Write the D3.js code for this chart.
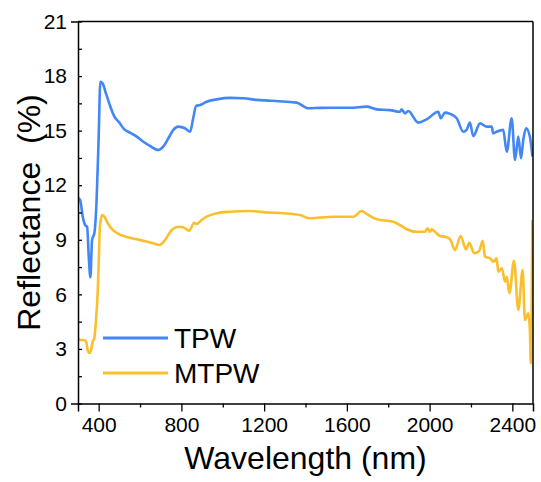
<!DOCTYPE html>
<html>
<head>
<meta charset="utf-8">
<script src="https://cdn.jsdelivr.net/npm/d3@7/dist/d3.min.js"></script>
<style>
  body { margin: 0; background: #fff; }
  text { font-family: Arial, "Liberation Sans", sans-serif; fill: #000; }
</style>
</head>
<body>
<div id="chart"></div>
<script>
// reflectance spectra
var seriesNames = ["TPW", "MTPW"];
var seriesColors = ["#4287f5", "#fcbf2c"];

var tpwWave = [300, 310, 323, 335, 344, 352, 360, 368, 379, 390, 400, 408, 419, 435, 451, 476, 500, 524, 551, 584,
    616, 648, 688, 712, 737, 761, 785, 817, 842, 857, 871, 890, 922, 971, 1035, 1099, 1164, 1220, 1290, 1357,
    1413, 1470, 1534, 1615, 1696, 1744, 1808, 1857, 1865, 1881, 1897, 1945, 1986, 2042, 2054, 2074, 2099, 2131, 2163, 2179,
    2195, 2211, 2244, 2276, 2300, 2308, 2324, 2356, 2373, 2397, 2413, 2429, 2442, 2453, 2466, 2485, 2497];
var tpwValue = [11.28, 11.2, 10.27, 9.8, 9.72, 8.07, 6.94, 8.99, 9.36, 11.19, 14.67, 17.69, 17.6, 17.05, 16.5, 15.77, 15.44, 15.07, 14.89, 14.67,
    14.39, 14.16, 13.94, 14.12, 14.58, 15.04, 15.22, 15.13, 14.94, 15.68, 16.36, 16.41, 16.59, 16.72, 16.8, 16.78, 16.69, 16.65, 16.6, 16.54,
    16.23, 16.25, 16.26, 16.26, 16.32, 16.17, 16.13, 16.04, 16.17, 15.95, 16.08, 15.44, 15.62, 16.04, 15.68, 15.99, 15.92, 15.68, 14.94, 15.04,
    15.44, 14.7, 15.4, 15.22, 15.22, 14.85, 14.94, 15.04, 13.84, 15.68, 13.39, 14.67, 13.48, 14.49, 15.13, 14.67, 13.57];

var mtpwWave = [300, 314, 326, 339, 347, 355, 363, 371, 379, 387, 395, 400, 406, 416, 427, 444, 468, 500, 532, 577,
    616, 664, 693, 721, 753, 785, 809, 838, 861, 874, 898, 922, 971, 1035, 1132, 1220, 1293, 1373, 1421, 1534,
    1631, 1672, 1696, 1744, 1825, 1857, 1889, 1938, 1978, 1989, 2002, 2010, 2026, 2050, 2074, 2099, 2123, 2150, 2176, 2192,
    2215, 2240, 2257, 2268, 2292, 2308, 2324, 2332, 2349, 2365, 2373, 2386, 2408, 2429, 2450, 2461, 2477, 2485, 2489, 2497];
var mtpwValue = [3.58, 3.49, 3.49, 3.4, 2.94, 2.79, 2.94, 3.4, 3.58, 4.59, 6.06, 7.71, 9.72, 10.36, 10.27, 9.91, 9.54, 9.3, 9.17, 9.04,
    8.95, 8.81, 8.71, 8.99, 9.54, 9.72, 9.69, 9.5, 9.94, 9.87, 10.09, 10.27, 10.46, 10.54, 10.58, 10.5, 10.46, 10.36, 10.18, 10.27,
    10.27, 10.58, 10.42, 10.13, 9.99, 9.81, 9.58, 9.44, 9.44, 9.63, 9.44, 9.58, 9.44, 9.21, 9.17, 9.03, 8.44, 9.21, 8.48, 8.84,
    8.26, 8.4, 8.95, 8.07, 7.98, 7.8, 7.98, 7.25, 7.43, 6.7, 6.97, 6.06, 7.85, 5.14, 7.34, 4.59, 4.96, 4.04, 2.21, 10.09];

var xTicks = [400, 800, 1200, 1600, 2000, 2400];
var yTicks = [0, 3, 6, 9, 12, 15, 18, 21];

var width = 541, height = 482;
var margin = { top: 21.5, right: 8, bottom: 78.5, left: 78 };

var svg = d3.select("#chart").append("svg")
    .attr("width", width)
    .attr("height", height);

var x = d3.scaleLinear().domain([300, 2500]).range([margin.left, width - margin.right]);
var y = d3.scaleLinear().domain([0, 21]).range([height - margin.bottom, margin.top]);

svg.append("clipPath").attr("id", "plotClip")
    .append("rect")
    .attr("x", x(300)).attr("y", y(21))
    .attr("width", x(2500) - x(300)).attr("height", y(0) - y(21));

var series = [
    tpwWave.map(function(d, i) { return [d, tpwValue[i]] }),
    mtpwWave.map(function(d, i) { return [d, mtpwValue[i]] })
];

var line = d3.line()
    .x(function(d) { return x(d[0]) })
    .y(function(d) { return y(d[1]) })
    .curve(d3.curveMonotoneX);

svg.append("g").attr("clip-path", "url(#plotClip)")
    .selectAll("path").data(series).enter()
    .append("path")
    .attr("fill", "none")
    .attr("stroke", function(d, i) { return seriesColors[i] })
    .attr("stroke-width", 2.6)
    .attr("stroke-linejoin", "round")
    .attr("d", line);

// frame on top and right
svg.append("line")
    .attr("x1", x(300)).attr("x2", x(2500)).attr("y1", y(21)).attr("y2", y(21))
    .attr("stroke", "#000").attr("stroke-width", 1.5);
svg.append("line")
    .attr("x1", x(2500)).attr("x2", x(2500)).attr("y1", y(21)).attr("y2", y(0))
    .attr("stroke", "#000").attr("stroke-width", 1.5);

// x axis
var xAxis = svg.append("g")
    .attr("transform", "translate(0," + y(0) + ")")
    .call(d3.axisBottom(x).tickValues(xTicks).tickSize(8).tickPadding(6).tickFormat(d3.format("d")));
svg.append("g")
    .attr("transform", "translate(0," + y(0) + ")")
    .call(d3.axisBottom(x).tickValues(d3.range(600, 2500, 400)).tickSize(4).tickFormat(""))
    .select(".domain").remove();

// y axis: major ticks cross the axis, minor ones point in
var yAxis = svg.append("g")
    .attr("transform", "translate(" + x(300) + ",0)")
    .call(d3.axisLeft(y).tickValues(yTicks).tickSize(7).tickPadding(4));
yAxis.selectAll(".tick line").attr("x2", 4);
svg.append("g")
    .attr("transform", "translate(" + x(300) + ",0)")
    .call(d3.axisLeft(y).tickValues(d3.range(1.5, 21, 3)).tickSize(-4).tickFormat(""))
    .select(".domain").remove();

svg.selectAll(".domain").attr("stroke-width", 1.5);
svg.selectAll(".tick line").attr("stroke-width", 1.3);
svg.selectAll(".tick text").style("font-size", "21px").style("font-family", "Arial, 'Liberation Sans', sans-serif");

svg.append("text")
    .attr("x", (x(300) + x(2500)) / 2)
    .attr("y", 469)
    .attr("text-anchor", "middle")
    .style("font-size", "32px")
    .text("Wavelength (nm)");

svg.append("text")
    .attr("transform", "translate(40," + (y(0) + y(21)) / 2 + ") rotate(-90)")
    .attr("text-anchor", "middle")
    .style("font-size", "32px")
    .style("white-space", "pre")
    .text("Reflectance  (%)");

// legend
var legend = svg.append("g");
var legendRows = legend.selectAll("g").data(seriesNames).enter()
    .append("g")
    .attr("transform", function(d, i) { return "translate(103," + (338 + i * 35) + ")" });
legendRows.append("line")
    .attr("x1", 0).attr("x2", 65)
    .attr("stroke", function(d, i) { return seriesColors[i] })
    .attr("stroke-width", 3);
legendRows.append("text")
    .attr("x", 71)
    .attr("y", 10)
    .style("font-size", "28px")
    .text(function(d) { return d });
</script>
</body>
</html>
